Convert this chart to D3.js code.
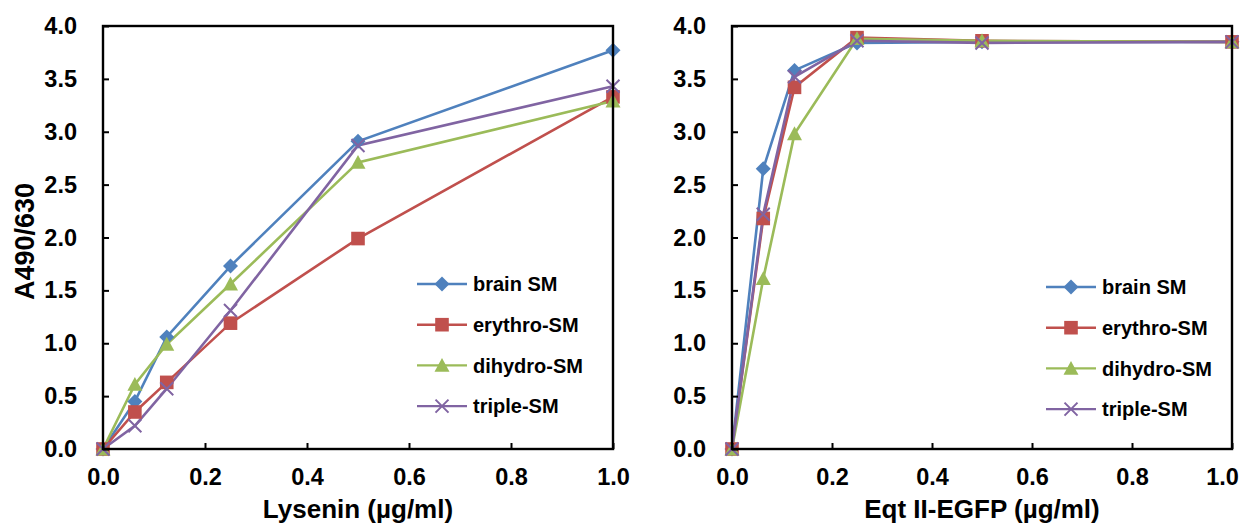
<!DOCTYPE html>
<html><head><meta charset="utf-8">
<script src="https://cdn.jsdelivr.net/npm/d3@7"></script>
<style>body{margin:0;background:#fff}text{font-family:"Liberation Sans",Arial,sans-serif;font-weight:bold;fill:#000}</style>
</head><body><svg id="c" width="1243" height="526"></svg>
<script>
const concentrations = [0, 0.0625, 0.125, 0.25, 0.5, 1.0];
const seriesNames = ["brain SM", "erythro-SM", "dihydro-SM", "triple-SM"];
const seriesColors = ["#4F81BD", "#C0504D", "#9BBB59", "#8064A2"];
const seriesSymbols = ["diamond", "square", "triangle", "cross"];
// Lysenin panel
const lyseninBrain   = [0, 0.45, 1.06, 1.73, 2.91, 3.77];
const lyseninErythro = [0, 0.35, 0.63, 1.19, 1.99, 3.33];
const lyseninDihydro = [0, 0.61, 0.99, 1.56, 2.71, 3.29];
const lyseninTriple  = [0, 0.22, 0.57, 1.31, 2.87, 3.43];
// Eqt II-EGFP panel
const eqtBrain   = [0, 2.65, 3.58, 3.84, 3.85, 3.85];
const eqtErythro = [0, 2.18, 3.42, 3.89, 3.86, 3.85];
const eqtDihydro = [0, 1.61, 2.98, 3.88, 3.86, 3.85];
const eqtTriple  = [0, 2.22, 3.52, 3.86, 3.84, 3.85];
const xTicks = [0, 0.2, 0.4, 0.6, 0.8, 1.0];
const yTicks = [0, 0.5, 1.0, 1.5, 2.0, 2.5, 3.0, 3.5, 4.0];
const yTitle = "A490/630";
const xTitles = ["Lysenin (\u00b5g/ml)", "Eqt II-EGFP (\u00b5g/ml)"];

const svg = d3.select("#c");

function marker(g, type, x, y, color) {
  if (type === "diamond") {
    const r = 7.5;
    g.append("path").attr("d", `M${x},${y-r}L${x+r},${y}L${x},${y+r}L${x-r},${y}Z`).attr("fill", color);
  } else if (type === "square") {
    const r = 6.8;
    g.append("rect").attr("x", x-r).attr("y", y-r).attr("width", 2*r).attr("height", 2*r).attr("fill", color);
  } else if (type === "triangle") {
    const r = 7.5;
    g.append("path").attr("d", `M${x},${y-r}L${x+r},${y+r*0.85}L${x-r},${y+r*0.85}Z`).attr("fill", color);
  } else {
    const r = 6.5;
    g.append("path").attr("d", `M${x-r},${y-r}L${x+r},${y+r}M${x-r},${y+r}L${x+r},${y-r}`)
     .attr("stroke", color).attr("stroke-width", 2).attr("fill", "none");
  }
}

function panel(x0, x1, y0, y1, data, xTitle, showYTitle, legendX, legendY) {
  const x = d3.scaleLinear().domain([0, 1]).range([x0, x1]);
  const y = d3.scaleLinear().domain([0, 4]).range([y1, y0]);
  const g = svg.append("g");
  data.forEach((vals, i) => {
    const line = d3.line().x((d, j) => x(concentrations[j])).y(d => y(d));
    g.append("path").datum(vals).attr("d", line).attr("fill", "none")
     .attr("stroke", seriesColors[i]).attr("stroke-width", 2.6);
  });
  data.forEach((vals, i) => {
    vals.forEach((v, j) => marker(g, seriesSymbols[i], x(concentrations[j]), y(v), seriesColors[i]));
  });
  const xa = g.append("g").attr("transform", `translate(0,${y1})`)
    .call(d3.axisBottom(x).tickValues(xTicks).tickSizeInner(-6).tickSizeOuter(0).tickPadding(14).tickFormat(d3.format(".1f")));
  xa.select(".domain").remove();
  xa.selectAll("line").attr("stroke", "#000").attr("stroke-width", 2);
  xa.selectAll("text").attr("font-size", 23.5).attr("fill", "#000").attr("dy", "0.71em").attr("y", 19)
    .attr("dx", d => (x(d) + 19 > 1241 ? 1241 - 19 - x(d) : 0));
  const ya = g.append("g").attr("transform", `translate(${x0},0)`)
    .call(d3.axisLeft(y).tickValues(yTicks).tickSizeInner(-6).tickSizeOuter(0).tickPadding(26).tickFormat(d3.format(".1f")));
  ya.select(".domain").remove();
  ya.selectAll("line").attr("stroke", "#000").attr("stroke-width", 2);
  ya.selectAll("text").attr("font-size", 23.5).attr("fill", "#000").attr("x", -26);
  g.append("rect").attr("x", x0).attr("y", y0).attr("width", x1 - x0).attr("height", y1 - y0)
   .attr("fill", "none").attr("stroke", "#000").attr("stroke-width", 2.4);
  g.append("text").attr("x", (x0 + x1) / 2).attr("y", 518).attr("text-anchor", "middle")
   .attr("font-size", 26).text(xTitle);
  if (showYTitle) {
    g.append("text").attr("transform", `translate(34,${(y0 + y1) / 2 + 4}) rotate(-90)`)
     .attr("text-anchor", "middle").attr("font-size", 27).text(yTitle);
  }
  seriesNames.forEach((name, i) => {
    const ly = legendY + i * 40.7;
    g.append("line").attr("x1", legendX).attr("x2", legendX + 50).attr("y1", ly).attr("y2", ly)
     .attr("stroke", seriesColors[i]).attr("stroke-width", 2.4);
    marker(g, seriesSymbols[i], legendX + 25, ly, seriesColors[i]);
    g.append("text").attr("x", legendX + 56).attr("y", ly).attr("dy", "0.36em")
     .attr("font-size", 20).text(name);
  });
}

panel(103, 613, 26, 449, [lyseninBrain, lyseninErythro, lyseninDihydro, lyseninTriple], xTitles[0], true, 417, 284);
panel(732, 1232, 26, 449, [eqtBrain, eqtErythro, eqtDihydro, eqtTriple], xTitles[1], false, 1046, 287);
</script></body></html>
